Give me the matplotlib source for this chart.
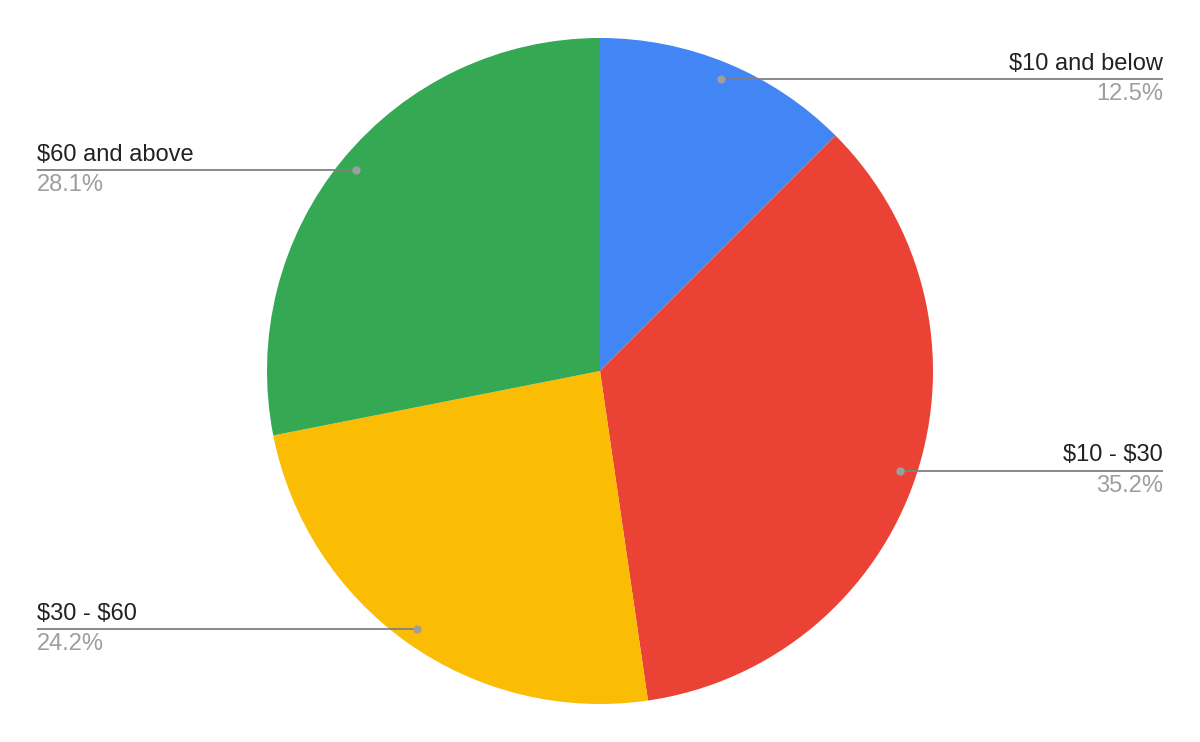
import numpy as np
import matplotlib.pyplot as plt

plt.rcParams['font.family'] = ['Liberation Sans', 'DejaVu Sans']

labels = ['$10 and below', '$10 - $30', '$30 - $60', '$60 and above']
shares = [12.5, 35.2, 24.2, 28.1]
colors = ['#4285F4', '#EA4335', '#FBBC04', '#34A853']

fig = plt.figure(figsize=(12, 7.42), dpi=100)
ax = fig.add_axes([0, 0, 1, 1])
R = 333.0

wedges, _ = ax.pie(shares, colors=colors, startangle=90, counterclock=False,
                   radius=1.0, center=(0, 0))

# pie() resets the limits, so set them afterwards
ax.set_xlim(-600 / R, 600 / R)
ax.set_ylim(-371 / R, 371 / R)
ax.set_aspect('equal')
ax.axis('off')

text_x = 563 / R
for w, lab, val in zip(wedges, labels, shares):
    mid = np.deg2rad((w.theta1 + w.theta2) / 2)
    px, py = 0.95 * np.cos(mid), 0.95 * np.sin(mid)
    if px >= 0:
        tx, ha = text_x, 'right'
    else:
        tx, ha = -text_x, 'left'
    ax.plot([px, tx], [py, py], color='#808080', lw=1.3, solid_capstyle='butt', zorder=3)
    ax.plot(px, py, 'o', color='#9e9e9e', ms=5, zorder=4)
    ax.annotate(lab.replace('$', r'\$'), (tx, py), xytext=(0, 3), textcoords='offset points',
                ha=ha, va='bottom', fontsize=17, color='#222222', annotation_clip=False)
    ax.annotate(f'{val}%', (tx, py), xytext=(0, -3), textcoords='offset points',
                ha=ha, va='top', fontsize=17, color='#9e9e9e', annotation_clip=False)

fig.savefig('out.png', dpi=100)
